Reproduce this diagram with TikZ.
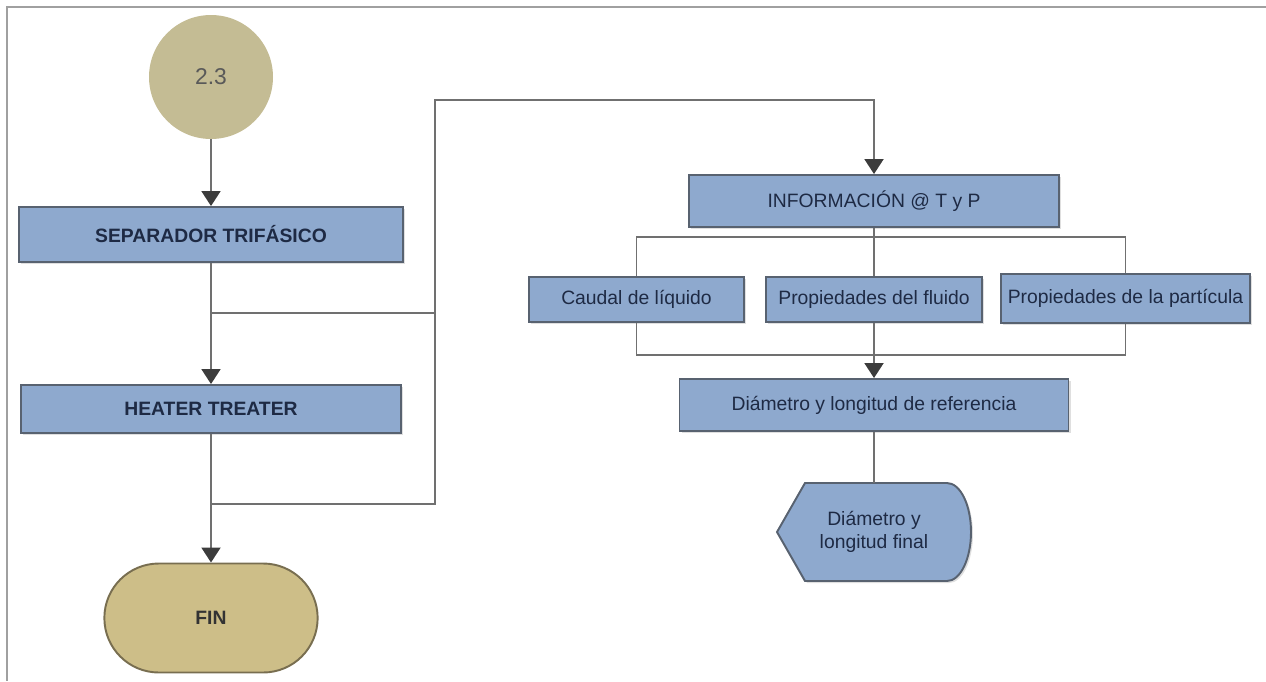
\documentclass[tikz,border=0pt]{standalone}
\usepackage{xcolor}
\usepackage{fontspec}
\setmainfont{Liberation Sans}
\usepackage{tikz}
\usetikzlibrary{calc}
\usetikzlibrary{arrows.meta}
\usetikzlibrary{shapes}
\usetikzlibrary{shapes.misc}
\usetikzlibrary{positioning}
\usetikzlibrary{shadows}
\definecolor{boxblue}{RGB}{142,169,206}
\definecolor{boxedge}{RGB}{88,98,112}
\definecolor{boxtext}{RGB}{30,42,68}
\definecolor{tan}{RGB}{196,188,148}
\definecolor{fintan}{RGB}{205,190,136}
\definecolor{finedge}{RGB}{120,110,80}
\definecolor{wire}{RGB}{112,112,112}
\definecolor{tipgray}{RGB}{60,60,60}
\definecolor{framegray}{RGB}{160,160,160}
\tikzset{>={Triangle[width=0.38cm,length=0.3cm,color=tipgray]}}
\tikzstyle{proc} = [rectangle, draw=boxedge, fill=boxblue, line width=1.1pt, text=boxtext, font=\fontsize{11}{13}\selectfont, drop shadow={opacity=0.25, shadow xshift=0.04cm, shadow yshift=-0.04cm}]
\tikzstyle{wire} = [draw=wire, line width=1.1pt]

\begin{document}
\begin{tikzpicture}
\useasboundingbox (0,0) rectangle (25.32,-13.62);
\draw [framegray, line width=1.5pt] (25.32,-0.14) -- (0.14,-0.14) -- (0.14,-13.62);
% left column
\node [circle, fill=tan, minimum size=2.48cm, text=black!65, font=\fontsize{13}{15}\selectfont] (start) at (4.22,-1.54) {2.3};
\node [proc, minimum width=7.68cm, minimum height=1.1cm, font=\fontsize{11}{13}\selectfont\bfseries] (sep) at (4.22,-4.69) {SEPARADOR TRIFÁSICO};
\node [proc, minimum width=7.6cm, minimum height=0.96cm, font=\fontsize{11}{13}\selectfont\bfseries] (heat) at (4.22,-8.18) {HEATER TREATER};
\node [rounded rectangle, draw=finedge, fill=fintan, line width=1.1pt, minimum width=4.5cm, minimum height=2.18cm, text=black!80, font=\fontsize{11}{13}\selectfont\bfseries] (fin) at (4.22,-12.36) {FIN};
\coordinate (j1) at (4.22,-6.26);
\coordinate (j2) at (4.22,-10.08);
\coordinate (k) at (8.7,-2.0);
\draw [wire, ->] (start) to (sep);
\draw [wire, ->] (sep) to (heat);
\draw [wire, ->] (heat) to (fin);
% right column
\node [proc, minimum width=7.4cm, minimum height=1.04cm] (info) at (17.48,-4.02) {INFORMACIÓN @ T y P};
\node [proc, minimum width=4.3cm, minimum height=0.9cm] (caudal) at (12.73,-5.99) {Caudal de líquido};
\node [proc, minimum width=4.32cm, minimum height=0.9cm] (fluido) at (17.48,-5.99) {Propiedades del fluido};
\node [proc, minimum width=4.98cm, minimum height=0.98cm, inner sep=1pt] (part) at (22.51,-5.97) {Propiedades de la partícula};
\node [proc, minimum width=7.78cm, minimum height=1.04cm] (ref) at (17.48,-8.1) {Diámetro y longitud de referencia};
\draw [wire] (j1) -- (j1 -| k);
\draw [wire, ->] (j2) -| (k) -| (info.north);
\coordinate (bt) at (17.48,-4.74);
\coordinate (bb) at (17.48,-7.10);
\draw [wire] (info) to (fluido);
\draw [wire] (caudal.north) |- (bt) -| (part.north);
\draw [wire] (caudal.south) |- (bb) -| (part.south);
\draw [wire, ->] (fluido) to (ref);
% display shape
\draw [draw=boxedge, fill=boxblue, line width=1.1pt, drop shadow={opacity=0.25, shadow xshift=0.04cm, shadow yshift=-0.04cm}] (15.54,-10.64) -- (16.10,-9.66) -- (18.94,-9.66) arc [start angle=90, end angle=-90, x radius=0.48cm, y radius=0.98cm] -- (16.10,-11.62) -- cycle;
\node [draw=none, align=center, text=boxtext, minimum height=1.96cm, font=\fontsize{11}{13.5}\selectfont] (final) at (17.48,-10.64) {Diámetro y\\longitud final};
\draw [wire] (ref) to (final);
\end{tikzpicture}
\end{document}
